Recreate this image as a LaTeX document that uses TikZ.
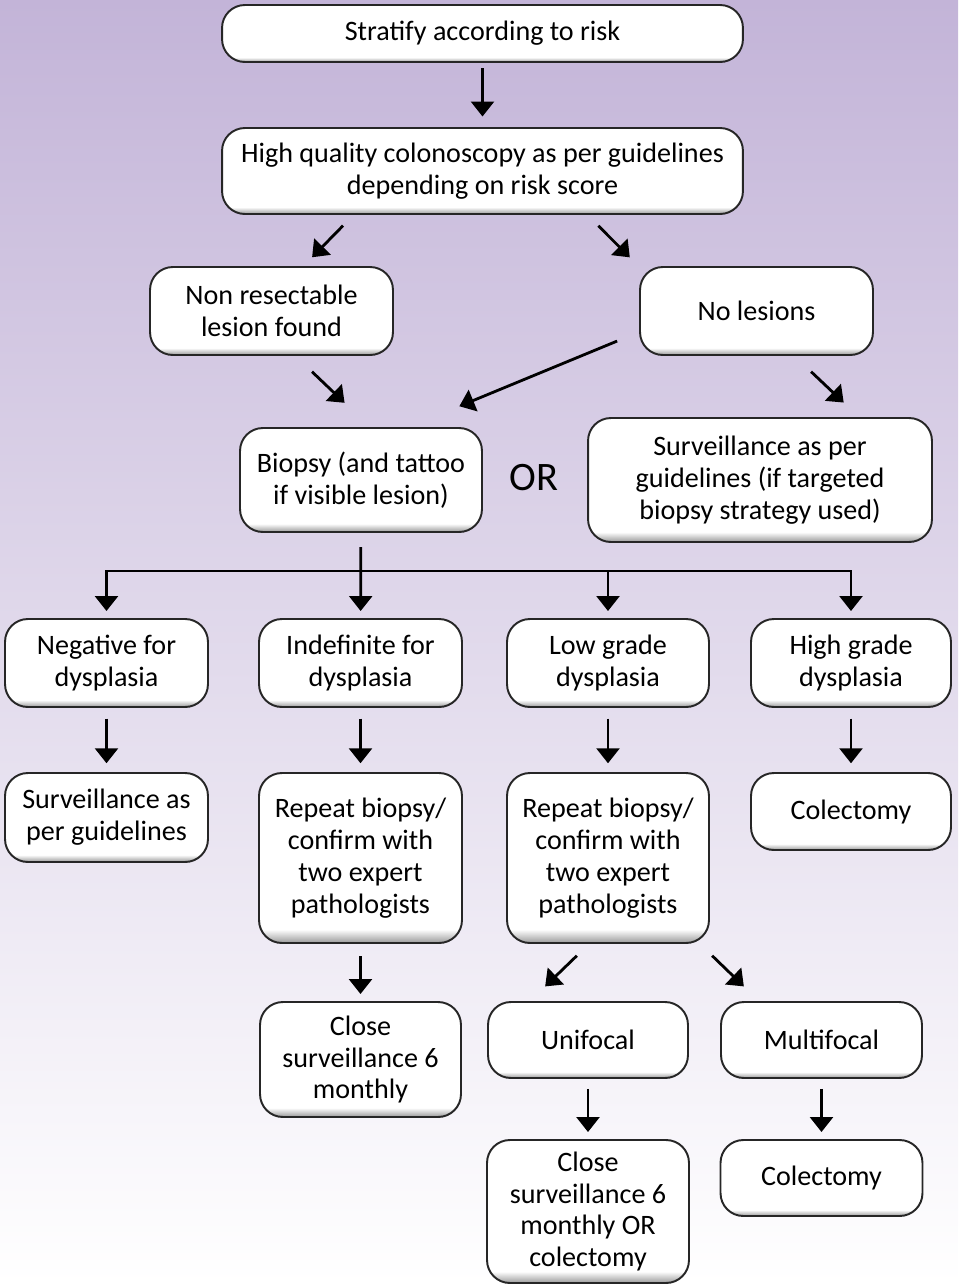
\documentclass[tikz,border=0pt]{standalone}
\usepackage{fontspec}
\setmainfont{Carlito}
\usetikzlibrary{arrows.meta,calc}
\definecolor{bgtop}{RGB}{195,180,216}
\definecolor{bgmid}{RGB}{233,228,241}
\pgfdeclareverticalshading{boxshade}{100bp}{color(0bp)=(black!40); color(25bp)=(black!40); color(29bp)=(white); color(100bp)=(white)}
\tikzset{
	box/.style={draw=black!85, line width=1.1pt, rounded corners=13pt, shading=boxshade, align=center, inner sep=2pt, font=\fontsize{16}{18.2}\selectfont},
	arr/.style={-{Triangle[width=13pt,length=8.5pt]}, line width=1.6pt},
}
\begin{document}
\begin{tikzpicture}[x=0.02cm, y=-0.02cm]
		\shade[top color=bgtop, middle color=bgmid, bottom color=white] (0,0) rectangle (958,1285);
		\node[box, minimum width=10.42cm, minimum height=1.14cm] (strat) at (482.5,33.5) {Stratify according to risk};
		\node[box, minimum width=10.42cm, minimum height=1.72cm] (hq) at (482.5,171) {High quality colonoscopy as per guidelines\\depending on risk score};
		\node[box, minimum width=4.86cm, minimum height=1.76cm] (nonres) at (271.5,311) {Non resectable\\lesion found};
		\node[box, minimum width=4.66cm, minimum height=1.76cm] (nolesion) at (756.5,311) {No lesions};
		\node[box, minimum width=4.84cm, minimum height=2.08cm] (biopsy) at (361,480) {Biopsy (and tattoo\\if visible lesion)};
		\node[font=\fontsize{23}{26}\selectfont] (or) at (534,478) {OR};
		\node[box, minimum width=6.88cm, minimum height=2.48cm] (surv) at (760,480) {Surveillance as per\\guidelines (if targeted\\biopsy strategy used)};
		\node[box, minimum width=4.06cm, minimum height=1.76cm] (neg) at (106.5,663) {Negative for\\dysplasia};
		\node[box, minimum width=4.06cm, minimum height=1.76cm] (indef) at (360.5,663) {Indefinite for\\dysplasia};
		\node[box, minimum width=4.04cm, minimum height=1.76cm] (low) at (608,663) {Low grade\\dysplasia};
		\node[box, minimum width=4cm, minimum height=1.76cm] (high) at (851,663) {High grade\\dysplasia};
		\node[box, minimum width=4.06cm, minimum height=1.78cm] (survneg) at (106.5,817.5) {Surveillance as\\per guidelines};
		\node[box, minimum width=4.06cm, minimum height=3.4cm] (rep1) at (360.5,858) {Repeat biopsy/\\confirm with\\two expert\\pathologists};
		\node[box, minimum width=4.04cm, minimum height=3.4cm] (rep2) at (608,858) {Repeat biopsy/\\confirm with\\two expert\\pathologists};
		\node[box, minimum width=4cm, minimum height=1.54cm] (colect1) at (851,811.5) {Colectomy};
		\node[box, minimum width=4.02cm, minimum height=2.3cm] (close1) at (360.5,1059.5) {Close\\surveillance 6\\monthly};
		\node[box, minimum width=4cm, minimum height=1.52cm] (unif) at (588,1040) {Unifocal};
		\node[box, minimum width=4.02cm, minimum height=1.52cm] (multi) at (821.5,1040) {Multifocal};
		\node[box, minimum width=4.04cm, minimum height=2.86cm] (close2) at (588,1211.5) {Close\\surveillance 6\\monthly OR\\colectomy};
		\node[box, minimum width=4.04cm, minimum height=1.52cm] (colect2) at (821.5,1178) {Colectomy};
		\draw[arr, shorten <=3pt, shorten >=6pt] (strat) -- (hq);
		\draw[arr, shorten <=8.5pt, shorten >=7pt] ($(hq.south)+(-129,0)$) -- ($(nonres.north)+(32,0)$);
		\draw[arr, shorten <=8.7pt, shorten >=7pt] ($(hq.south)+(105,0)$) -- ($(nolesion.north)+(-118,0)$);
		\draw[arr, shorten <=13pt, shorten >=20pt] ($(nonres.south)+(24,0)$) -- ($(biopsy.north)+(9,0)$);
		\draw[arr, shorten <=13.5pt, shorten >=31pt] ($(nolesion.west)+(0,21)$) -- ($(biopsy.north)+(48,0)$);
		\draw[arr, shorten <=13pt, shorten >=12pt] ($(nolesion.south)+(38,0)$) -- ($(surv.north)+(99,0)$);
		\draw[arr, shorten <=8pt, shorten >=4pt] (biopsy) -- (indef);
		\coordinate (fork) at ($(biopsy.south)+(0,38)$);
		\draw[arr, shorten >=4pt] (fork) -| (neg);
		\draw[arr, shorten >=4pt] (fork) -| (low);
		\draw[arr, shorten >=4pt] (fork) -| (high);
		\draw[arr, shorten <=6pt, shorten >=5pt] (neg) -- (survneg);
		\draw[arr, shorten <=6pt, shorten >=5pt] (indef) -- (rep1);
		\draw[arr, shorten <=6pt, shorten >=5pt] (low) -- (rep2);
		\draw[arr, shorten <=6pt, shorten >=5pt] (high) -- (colect1);
		\draw[arr, shorten <=7pt, shorten >=4pt] (rep1) -- (close1);
		\draw[arr, shorten <=9.6pt, shorten >=12pt] ($(rep2.south)+(-19,0)$) -- ($(unif.north)+(-58,0)$);
		\draw[arr, shorten <=9.6pt, shorten >=12pt] ($(rep2.south)+(92,0)$) -- ($(multi.north)+(-62.5,0)$);
		\draw[arr, shorten <=5.7pt, shorten >=4pt] (unif) -- (close2);
		\draw[arr, shorten <=5.7pt, shorten >=4pt] (multi) -- (colect2);
\end{tikzpicture}
\end{document}
